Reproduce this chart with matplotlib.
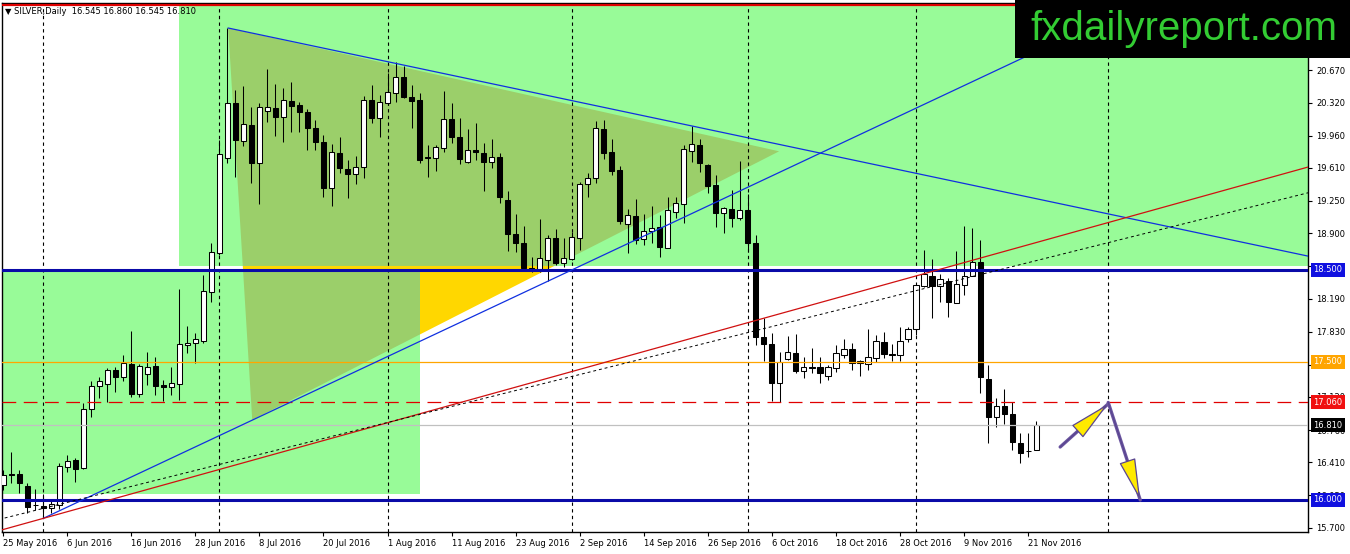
import matplotlib
matplotlib.use("Agg")
import matplotlib.pyplot as plt
import matplotlib.transforms as mtransforms
from matplotlib.patches import Rectangle, Polygon, FancyArrowPatch
import numpy as np

# =========================
# DADOS (SILVER, Daily, 25 May 2016 - 22 Nov 2016)
# =========================

opens = [16.163, 16.28, 16.28, 16.152, 15.95, 15.935, 15.91, 15.946, 16.362, 16.435,
         16.345, 16.986, 17.236, 17.258, 17.413, 17.34, 17.475, 17.149, 17.366, 17.457,
         17.25, 17.225, 17.258, 17.685, 17.703, 17.732, 18.261, 18.685, 19.717, 20.315,
         19.902, 20.076, 19.663, 20.228, 20.261, 20.163, 20.337, 20.294, 20.217, 20.043,
         19.891, 19.391, 19.772, 19.598, 19.543, 19.62, 20.348, 20.152, 20.315, 20.424,
         20.598, 20.38, 20.348, 19.728, 19.717, 19.826, 20.141, 19.946, 19.674, 19.804,
         19.772, 19.674, 19.728, 19.261, 18.891, 18.793, 18.522, 18.511, 18.609, 18.848,
         18.576, 18.62, 18.848, 19.435, 19.5, 20.033, 19.783, 19.587, 19.0, 19.087,
         18.837, 18.924, 18.967, 18.739, 19.13, 19.217, 19.793, 19.859, 19.641, 19.424,
         19.12, 19.163, 19.065, 19.152, 18.793, 17.772, 17.696, 17.272, 17.533, 17.598,
         17.402, 17.446, 17.446, 17.348, 17.435, 17.576, 17.641, 17.489, 17.478, 17.543,
         17.717, 17.587, 17.576, 17.75, 17.859, 18.326, 18.435, 18.326, 18.38, 18.141,
         18.337, 18.435, 18.587, 17.315, 16.902, 17.022, 16.935, 16.62, 16.533, 16.545]
highs = [16.326, 16.525, 16.33, 16.182, 16.12, 16.065, 16.0, 16.406, 16.489, 16.453,
         17.051, 17.297, 17.334, 17.432, 17.45, 17.576, 17.837, 17.475, 17.612, 17.551,
         17.304, 17.45, 18.293, 17.891, 17.812, 18.446, 18.793, 19.913, 21.13, 20.457,
         20.5, 20.272, 20.315, 20.685, 20.522, 20.478, 20.543, 20.326, 20.25, 20.13,
         19.967, 19.87, 19.946, 19.696, 19.739, 20.391, 20.511, 20.402, 20.641, 20.761,
         20.717, 20.511, 20.424, 19.859, 19.859, 20.446, 20.315, 20.152, 20.033, 20.098,
         19.88, 19.924, 19.772, 19.359, 19.109, 18.978, 18.641, 19.054, 18.88, 18.946,
         18.848, 18.913, 19.46, 19.554, 20.12, 20.13, 19.924, 19.63, 19.163, 19.272,
         19.109, 19.196, 19.098, 19.293, 19.293, 19.859, 20.065, 19.924, 19.65, 19.533,
         19.185, 19.37, 19.685, 19.326, 18.88, 17.978, 17.815, 17.609, 17.783, 17.804,
         17.554, 17.652, 17.554, 17.467, 17.685, 17.75, 17.707, 17.522, 17.859, 17.793,
         17.826, 17.696, 17.88, 17.88, 18.34, 18.717, 18.62, 18.457, 18.413, 18.707,
         18.978, 18.957, 18.826, 17.467, 17.109, 17.207, 17.065, 16.728, 16.728, 16.86]
lows = [16.109, 16.182, 16.08, 15.856, 15.891, 15.801, 15.862, 15.899, 16.308, 16.199,
        16.334, 16.906, 17.112, 17.069, 17.177, 17.294, 17.123, 17.123, 17.25, 17.141,
        17.08, 17.141, 17.087, 17.601, 17.493, 17.71, 18.152, 18.663, 19.663, 19.511,
        19.848, 19.446, 19.217, 20.109, 19.957, 19.891, 20.0, 20.0, 19.804, 19.804,
        19.293, 19.196, 19.554, 19.283, 19.435, 19.5, 20.098, 19.946, 20.293, 20.326,
        20.37, 20.043, 19.663, 19.511, 19.576, 19.78, 19.88, 19.652, 19.66, 19.696,
        19.359, 19.609, 19.228, 18.707, 18.696, 18.511, 18.478, 18.478, 18.381, 18.554,
        18.533, 18.609, 18.717, 19.293, 19.446, 19.707, 19.533, 19.0, 18.685, 18.783,
        18.772, 18.793, 18.641, 18.739, 19.065, 19.011, 19.674, 19.565, 19.337, 18.967,
        18.902, 18.967, 19.043, 18.696, 17.685, 17.511, 17.076, 17.065, 17.52, 17.38,
        17.326, 17.38, 17.272, 17.304, 17.391, 17.543, 17.413, 17.348, 17.413, 17.5,
        17.543, 17.511, 17.511, 17.717, 17.794, 18.32, 17.978, 18.152, 17.989, 18.14,
        18.228, 18.43, 17.163, 16.62, 16.793, 16.826, 16.543, 16.402, 16.467, 16.545]
closes = [16.272, 16.275, 16.18, 15.928, 15.945, 15.91, 15.953, 16.37, 16.427, 16.341,
          16.986, 17.239, 17.29, 17.413, 17.34, 17.486, 17.152, 17.46, 17.45, 17.243,
          17.225, 17.268, 17.693, 17.71, 17.747, 18.272, 18.696, 19.761, 20.315, 19.913,
          20.087, 19.663, 20.272, 20.272, 20.163, 20.348, 20.283, 20.217, 20.043, 19.891,
          19.391, 19.783, 19.609, 19.543, 19.62, 20.348, 20.152, 20.326, 20.435, 20.598,
          20.38, 20.337, 19.696, 19.717, 19.837, 20.141, 19.946, 19.707, 19.804, 19.783,
          19.674, 19.728, 19.293, 18.891, 18.793, 18.522, 18.511, 18.63, 18.848, 18.576,
          18.63, 18.859, 19.435, 19.5, 20.043, 19.772, 19.576, 19.033, 19.098, 18.826,
          18.924, 18.957, 18.75, 19.152, 19.228, 19.815, 19.87, 19.663, 19.413, 19.12,
          19.174, 19.065, 19.152, 18.793, 17.772, 17.696, 17.272, 17.5, 17.609, 17.402,
          17.446, 17.435, 17.38, 17.446, 17.598, 17.641, 17.489, 17.511, 17.554, 17.728,
          17.587, 17.576, 17.728, 17.859, 18.337, 18.457, 18.326, 18.402, 18.152, 18.348,
          18.435, 18.587, 17.337, 16.902, 17.022, 16.935, 16.63, 16.511, 16.53, 16.81]

date_labels = ["25 May 2016", "6 Jun 2016", "16 Jun 2016", "28 Jun 2016", "8 Jul 2016",
               "20 Jul 2016", "1 Aug 2016", "11 Aug 2016", "23 Aug 2016", "2 Sep 2016",
               "14 Sep 2016", "26 Sep 2016", "6 Oct 2016", "18 Oct 2016", "28 Oct 2016",
               "9 Nov 2016", "21 Nov 2016"]
date_bars = [0, 8, 16, 24, 32, 40, 48, 56, 64, 72, 80, 88, 96, 104, 112, 120, 128]

price_ticks = [15.70, 16.05, 16.41, 16.76, 17.12, 17.47, 17.83, 18.19, 18.54,
               18.90, 19.25, 19.61, 19.96, 20.32, 20.67]

separator_bars = [5, 27, 48, 71, 93, 114, 138]

# objetos desenhados no grafico (barra, preco)
zone_top = (22, 18.543)             # retangulo verde de cima (inicio, base)
zone_bottom = (52, 16.065, 18.478)  # retangulo verde de baixo (fim, base, topo)
triangle_bars = [28.1, 31.1, 96.9]
triangle_prices = [21.13, 16.87, 19.79]

down_line = ([28.1, 163.0], [21.13, 18.65])
up_line = ([5, 71], [15.80, 18.50])
red_line = ([5, 163.0], [15.80, 19.62])
dot_line = ([0, 163.0], [15.80, 19.34])

top_level = 21.385
levels = {"support": 18.5, "target": 16.0, "orange": 17.5, "red": 17.06, "bid": 16.81}

arrow_up = ([132, 138], [16.576, 17.045])
arrow_down = ([138, 142], [17.06, 16.0])

# =========================
# FIGURA
# =========================

fig = plt.figure(figsize=(13.5, 5.54), dpi=100)
ax = fig.add_axes([2 / 1350, 22 / 554, 1306 / 1350, 529 / 554])
ax.set_xlim(-0.15, 162.95)
ax.set_ylim(15.652, 21.402)

# fundos verdes e triangulo
ax.add_patch(Polygon(list(zip(triangle_bars, triangle_prices)), closed=True,
                     facecolor="#FFD700", edgecolor="none", zorder=0.9))
rect_top = Rectangle((zone_top[0], zone_top[1]), 300, 10, facecolor="#98FB98",
                     edgecolor="none", zorder=1)
rect_bot = Rectangle((-10, zone_bottom[1]), zone_bottom[0] + 10, zone_bottom[2] - zone_bottom[1],
                     facecolor="#98FB98", edgecolor="none", zorder=1)
ax.add_patch(rect_top)
ax.add_patch(rect_bot)
for r in (rect_top, rect_bot):
    tri = Polygon(list(zip(triangle_bars, triangle_prices)), closed=True,
                  facecolor="#9BCF6A", edgecolor="none", zorder=1.1)
    ax.add_patch(tri)
    tri.set_clip_path(r)

# separadores de periodo
for b in separator_bars:
    ax.axvline(b, color="black", lw=0.8, dashes=(3, 3), zorder=2)

# candles
x = np.arange(len(opens))
o = np.array(opens)
h = np.array(highs)
l = np.array(lows)
c = np.array(closes)
up = c >= o
body_low = np.minimum(o, c)
body_h = np.maximum(np.abs(c - o), 0.004)
ax.vlines(x, l, h, color="black", lw=0.75, zorder=4)
ax.bar(x[up], body_h[up], bottom=body_low[up], width=0.64, color="white",
       edgecolor="black", lw=0.75, zorder=5)
ax.bar(x[~up], body_h[~up], bottom=body_low[~up], width=0.64, color="black",
       edgecolor="black", lw=0.75, zorder=5)

# linhas horizontais
ax.axhline(top_level, color="#E00000", lw=1.6, zorder=7)
ax.axhline(levels["support"], color="#0A0AA8", lw=2.2, zorder=7)
ax.axhline(levels["target"], color="#0A0AA8", lw=2.2, zorder=7)
ax.axhline(levels["orange"], color="#FFA500", lw=0.9, zorder=7)
ax.axhline(levels["red"], color="#E00000", lw=0.9, dashes=(11, 6), zorder=7)
ax.axhline(levels["bid"], color="#C0C0C0", lw=0.9, zorder=6)

# linhas de tendencia
def trend(pts, color, start=None, **kw):
    bx, py = pts
    slope = (py[1] - py[0]) / (bx[1] - bx[0])
    x0 = bx[0] if start is None else start
    xs = np.array([x0, 163.5])
    ax.plot(xs, py[0] + (xs - bx[0]) * slope, color=color, zorder=8, **kw)

trend(down_line, "#1030E0", lw=0.9)
trend(up_line, "#1030E0", lw=0.9)
trend(red_line, "#D01010", start=-1, lw=0.9)
trend(dot_line, "black", start=-1, lw=0.7, dashes=(3, 3))

# setas (haste grossa + ponta amarela)
for pts in (arrow_up, arrow_down):
    ax.plot(pts[0], pts[1], color="#6B55A0", lw=2.4, solid_capstyle="round", zorder=8.5)
    arr = FancyArrowPatch((pts[0][0], pts[1][0]), (pts[0][1], pts[1][1]),
                          arrowstyle="-|>,head_length=1.0,head_width=0.2",
                          mutation_scale=27, lw=0.9,
                          facecolor="#FFEA00", edgecolor="#5A4690",
                          shrinkA=0, shrinkB=0, zorder=9)
    ax.add_patch(arr)

# eixos
for s in ax.spines.values():
    s.set_color("black")
    s.set_linewidth(1)
ax.yaxis.tick_right()
ax.set_yticks(price_ticks)
ax.set_yticklabels(["%.3f" % v for v in price_ticks])
ax.set_xticks(date_bars)
ax.set_xticklabels(date_labels)
plt.setp(ax.get_xticklabels(), ha="left")
ax.tick_params(axis="y", length=3, width=0.8, labelsize=6, pad=3)
ax.tick_params(axis="x", length=3, width=0.8, labelsize=6, pad=2)

# etiquetas de preco
trans = mtransforms.blended_transform_factory(ax.transAxes, ax.transData)
tags = [(levels["support"], "#1010E0"), (levels["target"], "#1010E0"),
        (levels["orange"], "#FFA500"), (levels["red"], "#F01010"), (levels["bid"], "black")]
for val, col in tags:
    ax.text(1.0 + 5 / 1306, val, "%.3f" % val, transform=trans, ha="left", va="center",
            fontsize=6, color="white", zorder=20, clip_on=False,
            bbox=dict(boxstyle="square,pad=0.3", fc=col, ec="none"))

# titulo
fig.text(5 / 1350, 1 - 11 / 554, "\u25bc SILVER,Daily  16.545 16.860 16.545 16.810",
         fontsize=6, va="center", ha="left", color="black")

# logo
fig.patches.append(Rectangle((1015 / 1350, 1 - 58 / 554), 335 / 1350, 58 / 554,
                             transform=fig.transFigure, facecolor="black",
                             edgecolor="none", zorder=10))
fig.text(1030 / 1350, 1 - 40 / 554, "fxdailyreport.com", family="Liberation Sans",
         fontsize=29, color="#33CC33", ha="left", va="baseline", zorder=11)

fig.savefig("out.png", dpi=100)
